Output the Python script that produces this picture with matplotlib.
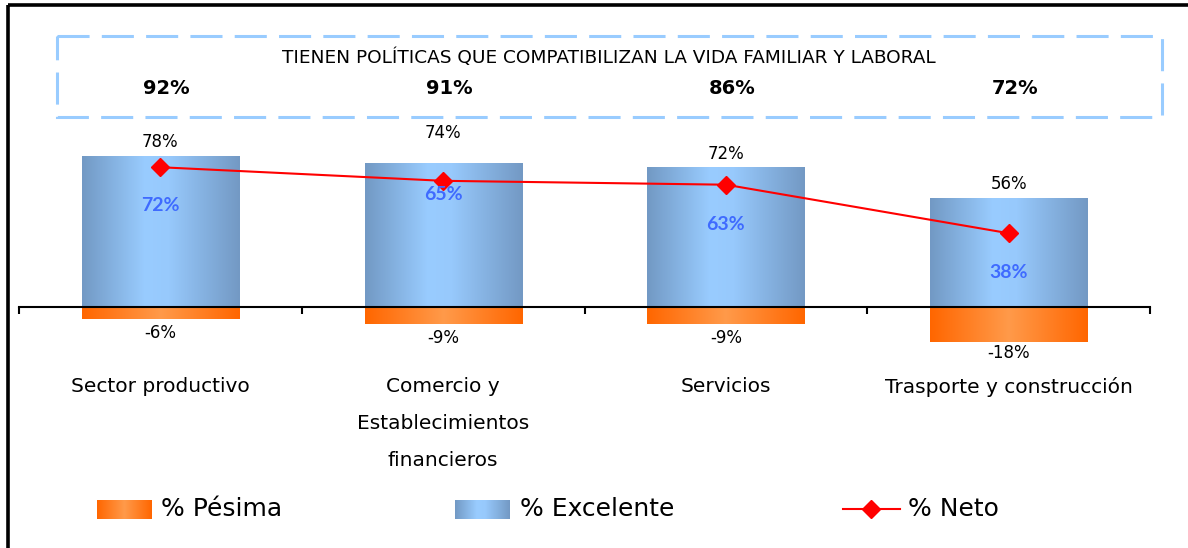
import numpy as np
import matplotlib
matplotlib.use("Agg")
from matplotlib import pyplot as plt
from matplotlib import transforms
from matplotlib.colors import LinearSegmentedColormap
from matplotlib.patches import Rectangle
from matplotlib.lines import Line2D

# datos del grafico
sectores = ["Sector productivo", "Comercio y\nEstablecimientos\nfinancieros",
            "Servicios", "Trasporte y construcción"]
pct_politicas = [92, 91, 86, 72]
pct_excelente = [78, 74, 72, 56]
pct_pesima = [-6, -9, -9, -18]
pct_neto = [72, 65, 63, 38]

titulo = "TIENEN POLÍTICAS QUE COMPATIBILIZAN LA VIDA FAMILIAR Y LABORAL"

# degradados tipo "cilindro" de excel
azul = LinearSegmentedColormap.from_list(
    "azul", [(0, "#7299C4"), (0.4, "#99CCFF"), (0.55, "#97C9FC"), (1, "#7399C4")])
naranja = LinearSegmentedColormap.from_list(
    "naranja", [(0, "#FF6600"), (0.5, "#FF9A4A"), (1, "#FF6600")])
grad = np.linspace(0, 1, 256).reshape(1, -1)

plt.rcParams['font.family'] = ['DejaVu Sans']

fig = plt.figure(figsize=(11.88, 5.48), dpi=100)
W, H = 1188, 548

# ejes principales
ax = fig.add_axes([19 / W, 1 - 355.5 / H, (1150 - 19) / W, (355.5 - 142) / H])
x = np.arange(len(sectores))
ancho = 0.556


def rellenar(barras, cmap):
    for b in barras:
        x0, y0 = b.get_x(), b.get_y()
        w, h = b.get_width(), b.get_height()
        im = ax.imshow(grad, cmap=cmap, aspect="auto", interpolation="bilinear",
                       extent=(x0, x0 + w, y0, y0 + h), zorder=2)
        im.set_clip_path(b)


b_exc = ax.bar(x, pct_excelente, ancho, color="#8FBDEB", zorder=1, linewidth=0)
b_pes = ax.bar(x, pct_pesima, ancho, color="#FF8030", zorder=1, linewidth=0)
rellenar(b_exc, azul)
rellenar(b_pes, naranja)

ax.plot(x, pct_neto, color="red", lw=1.5, marker="D", ms=9, zorder=4)

# etiquetas
off_exc = [9.5, 22, 9.5, 10.5]
off_pes = [10, 9.5, 9.5, 8]
off_neto = [27.5, 10, 29, 28]
for i in range(len(x)):
    ax.annotate(f"{pct_excelente[i]}%", (x[i], pct_excelente[i]), xytext=(0, off_exc[i]),
                textcoords="offset points", ha="center", va="center", fontsize=12)
    ax.annotate(f"{pct_pesima[i]}%", (x[i], pct_pesima[i]), xytext=(0, -off_pes[i]),
                textcoords="offset points", ha="center", va="center", fontsize=12)
    ax.annotate(f"{pct_neto[i]}%", (x[i], pct_neto[i]), xytext=(0, -off_neto[i]),
                textcoords="offset points", ha="center", va="center", fontsize=14,
                color="#3F6BFF", family="Lato", weight="bold", zorder=5)

# nombres de categoria (una linea por texto)
tr = transforms.blended_transform_factory(ax.transData, fig.transFigure)
for i, nombre in enumerate(sectores):
    for j, linea in enumerate(nombre.split("\n")):
        ax.annotate(linea, (x[i], 1 - 387 / H), xycoords=tr, xytext=(0, -26.3 * j),
                    textcoords="offset points", ha="center", va="center", fontsize=14.5)

ax.set_xlim(-0.5, 3.5)
ax.set_ylim(-25, 85)
for s in ["left", "right", "top"]:
    ax.spines[s].set_visible(False)
ax.spines["bottom"].set_position(("data", 0))
ax.spines["bottom"].set_linewidth(1.5)
ax.spines["bottom"].set_zorder(6)
ax.set_xticks(np.arange(-0.5, 4, 1))
ax.set_xticklabels([])
ax.tick_params(axis="x", direction="out", length=5, width=1.5)
ax.set_yticks([])
ax.patch.set_visible(False)

# capa de decoracion en pixeles
deco = fig.add_axes([0, 0, 1, 1], zorder=-1)
deco.axis("off")

deco.add_patch(Rectangle((8, 5), 1300, 700, fill=False, ec="black", lw=2.6))
deco.add_patch(Rectangle((57, 36), 1105, 81, fill=False, ec="#99CCFF", lw=2.2,
                         ls=(0, (10.5, 4))))
deco.text(609, 58, titulo, ha="center", va="center", fontsize=13.3)
for i in range(len(x)):
    xp = ax.transData.transform((x[i], 0))[0]
    deco.text(xp + 6, 88, f"{pct_politicas[i]}%", ha="center", va="center",
              fontsize=14, weight="bold")

# leyenda
deco.imshow(grad, cmap=naranja, aspect="auto", extent=(97, 152, 519, 500))
deco.text(161, 509, "% Pésima", ha="left", va="center", fontsize=18)
deco.imshow(grad, cmap=azul, aspect="auto", extent=(455, 510, 519, 500))
deco.text(520, 509, "% Excelente", ha="left", va="center", fontsize=18)
deco.add_line(Line2D([843, 900], [509, 509], color="red", lw=1.5))
deco.plot([871], [509], color="red", marker="D", ms=9)
deco.text(908, 509, "% Neto", ha="left", va="center", fontsize=18)
deco.set_xlim(0, W)
deco.set_ylim(H, 0)

plt.savefig("out.png", dpi=100)
